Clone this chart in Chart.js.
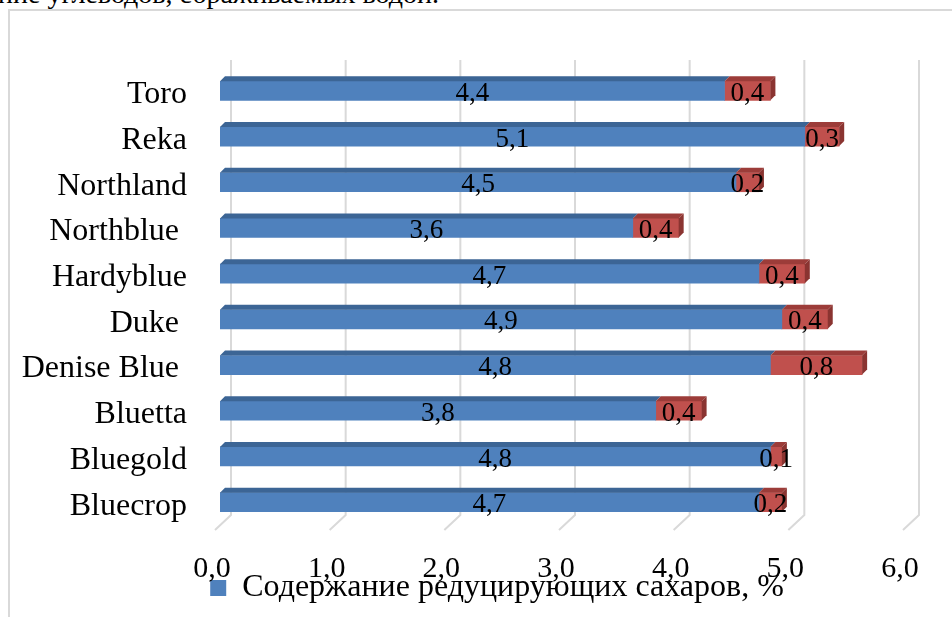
<!DOCTYPE html>
<html>
<head>
<meta charset="utf-8">
<script src="https://cdn.jsdelivr.net/npm/chart.js@4/dist/chart.umd.min.js"></script>
<style>
  html, body { margin: 0; padding: 0; background: #fff; overflow: hidden; }
  #wrap { position: relative; width: 952px; height: 617px; }
  #frame { position: absolute; left: 8px; top: 9px; width: 960px; height: 620px; border: 2px solid #d9d9d9; box-sizing: border-box; }
  #caption { position: absolute; left: -2px; top: -20px; font: 28px "Liberation Serif", serif; line-height: 28px; white-space: nowrap; color: #000; }
  #c { position: absolute; left: 0; top: 0; }
</style>
</head>
<body>
<div id="wrap">
  <div id="caption">ние углеводов, сбраживаемых водой.</div>
  <div id="frame"></div>
  <canvas id="c" width="952" height="617"></canvas>
</div>
<script>
// data
var varieties = ["Toro", "Reka", "Northland", "Northblue ", "Hardyblue", "Duke ", "Denise Blue ", "Bluetta", "Bluegold", "Bluecrop"];
var reducingSugars = [4.4, 5.1, 4.5, 3.6, 4.7, 4.9, 4.8, 3.8, 4.8, 4.7];
var otherSugars = [0.4, 0.3, 0.2, 0.4, 0.4, 0.4, 0.8, 0.4, 0.1, 0.2];
var xTicks = [0, 1, 2, 3, 4, 5, 6];

function fmt(v) {
  return v.toFixed(1).replace('.', ',');
}

var serif = '"Liberation Serif", "Times New Roman", serif';

// back-wall grid with the little 3D floor kink, plus the x tick labels
var grid3d = {
  id: 'grid3d',
  afterLayout: function(chart) {
    // legend sits a bit right of the canvas centre in the original
    chart.legend.left += 43;
    chart.legend.right += 43;
  },
  beforeDatasetsDraw: function(chart) {
    var ctx = chart.ctx, xs = chart.scales.x, a = chart.chartArea;
    ctx.save();
    ctx.strokeStyle = '#d9d9d9';
    ctx.lineWidth = 2;
    xTicks.forEach(function(v) {
      var px = xs.getPixelForValue(v);
      ctx.beginPath();
      ctx.moveTo(px + 11, a.top - 8);
      ctx.lineTo(px + 11, a.bottom - 10);
      ctx.lineTo(px - 5, a.bottom + 5);
      ctx.stroke();
    });
    ctx.fillStyle = '#000';
    ctx.font = '30px ' + serif;
    ctx.textAlign = 'center';
    ctx.textBaseline = 'alphabetic';
    xTicks.forEach(function(v) {
      ctx.fillText(fmt(v), xs.getPixelForValue(v) - 8, a.bottom + 52);
    });
    ctx.restore();
  }
};

// top faces, end caps and value labels
var bars3d = {
  id: 'bars3d',
  afterDatasetsDraw: function(chart) {
    var ctx = chart.ctx;
    var dx = 5, dy = 5;
    var tops = ['#3c6595', '#9c3c39'];
    var sides = ['#35587f', '#8a3431'];
    var n = chart.data.datasets.length;
    ctx.save();
    chart.data.datasets.forEach(function(ds, di) {
      var meta = chart.getDatasetMeta(di);
      meta.data.forEach(function(bar) {
        var p = bar.getProps(['x', 'y', 'base', 'height'], true);
        var top = p.y - p.height / 2, bottom = p.y + p.height / 2;
        ctx.fillStyle = tops[di];
        ctx.beginPath();
        ctx.moveTo(p.base, top);
        ctx.lineTo(p.x, top);
        ctx.lineTo(p.x + dx, top - dy);
        ctx.lineTo(p.base + dx, top - dy);
        ctx.closePath();
        ctx.fill();
        if (di === n - 1) {
          ctx.fillStyle = sides[di];
          ctx.beginPath();
          ctx.moveTo(p.x, top);
          ctx.lineTo(p.x + dx, top - dy);
          ctx.lineTo(p.x + dx, bottom - dy);
          ctx.lineTo(p.x, bottom);
          ctx.closePath();
          ctx.fill();
        }
      });
    });
    ctx.fillStyle = '#000';
    ctx.font = '27px ' + serif;
    ctx.textAlign = 'center';
    ctx.textBaseline = 'middle';
    chart.data.datasets.forEach(function(ds, di) {
      var meta = chart.getDatasetMeta(di);
      meta.data.forEach(function(bar, i) {
        var p = bar.getProps(['x', 'y', 'base'], true);
        ctx.fillText(fmt(ds.data[i]), (p.base + p.x) / 2, p.y + 3);
      });
    });
    ctx.restore();
  }
};

new Chart(document.getElementById('c'), {
  type: 'bar',
  data: {
    labels: varieties,
    datasets: [
      {
        label: 'Содержание редуцирующих сахаров, %',
        data: reducingSugars,
        backgroundColor: '#4f81bd',
        barThickness: 19
      },
      {
        label: 'Прочие сахара, %',
        data: otherSugars,
        backgroundColor: '#c0504d',
        barThickness: 19
      }
    ]
  },
  options: {
    indexAxis: 'y',
    responsive: false,
    animation: false,
    layout: { padding: { left: 0, right: 44, top: 68, bottom: 3 } },
    scales: {
      x: {
        stacked: true,
        min: 0,
        max: 6,
        afterFit: function(s) { s.height = 37; },
        grid: { display: false, drawTicks: false },
        border: { display: false },
        ticks: { display: false }
      },
      y: {
        stacked: true,
        afterFit: function(s) { s.width = 220; },
        grid: { display: false, drawTicks: false },
        border: { display: false },
        ticks: {
          padding: 33,
          labelOffset: 4,
          color: '#000',
          font: { family: serif, size: 32 }
        }
      }
    },
    plugins: {
      legend: {
        position: 'bottom',
        labels: {
          boxWidth: 16,
          boxHeight: 16,
          color: '#000',
          font: { family: serif, size: 32 },
          filter: function(item) { return item.datasetIndex === 0; }
        }
      },
      tooltip: { enabled: false }
    }
  },
  plugins: [grid3d, bars3d]
});
</script>
</body>
</html>
